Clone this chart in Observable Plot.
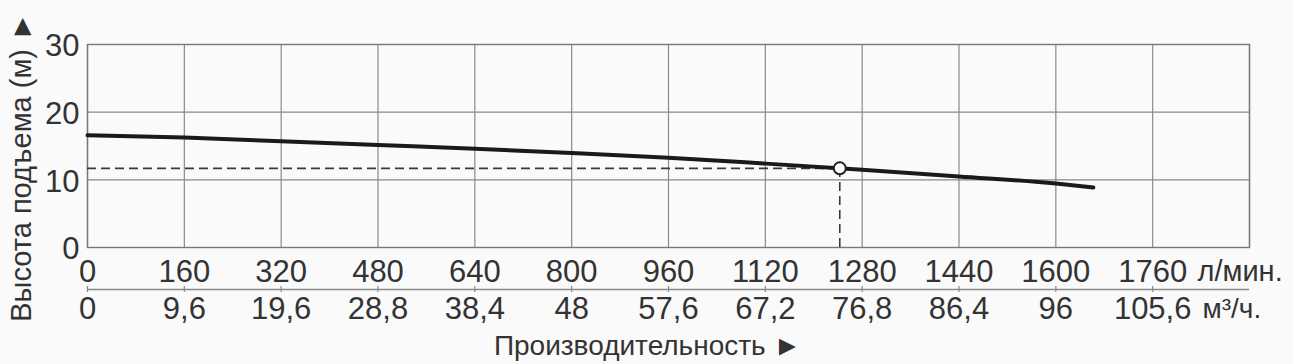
<!DOCTYPE html>
<html>
<head>
<meta charset="utf-8">
<script src="https://cdn.jsdelivr.net/npm/d3@7"></script>
<script src="https://cdn.jsdelivr.net/npm/@observablehq/plot@0.6"></script>
<style>
  html, body { margin: 0; padding: 0; background: #fafafa; }
  #chart svg { display: block; }
</style>
</head>
<body>
<div id="chart"></div>
<script>
// Performance curve (flow in l/min, head in m)
const flow = [0, 160, 320, 480, 640, 800, 960, 1120, 1280, 1440, 1600, 1662];
const head = [16.6, 16.25, 15.7, 15.15, 14.6, 13.95, 13.25, 12.4, 11.5, 10.5, 9.45, 8.86];

// Operating point
const opFlow = [1243];
const opHead = [11.7];

// Tick labels
const flowTicks = [0, 160, 320, 480, 640, 800, 960, 1120, 1280, 1440, 1600, 1760];
const m3Labels = ["0", "9,6", "19,6", "28,8", "38,4", "48", "57,6", "67,2", "76,8", "86,4", "96", "105,6"];
const headTicks = [0, 10, 20, 30];
const gridX = [0, 160, 320, 480, 640, 800, 960, 1120, 1280, 1440, 1600, 1760, 1920];

const yTitle = "Высота подъема (м) ►";
const xTitle = "Производительность ►";
const unitFlow = "л/мин.";
const unitM3 = "м³/ч.";

const curve = flow.map((f, i) => ({flow: f, head: head[i]}));
const op = opFlow.map((f, i) => ({flow: f, head: opHead[i]}));
const m3Rows = flowTicks.map((t, i) => ({flow: t, label: m3Labels[i]}));

const font = "'Liberation Sans', Arial, sans-serif";
const textColor = "#333";
const tickFont = 31;

const chart = Plot.plot({
  width: 1293,
  height: 364,
  marginLeft: 87,
  marginRight: 44,
  marginTop: 44,
  marginBottom: 117,
  style: {background: "#fafafa", fontFamily: font, fontSize: "29px", color: textColor},
  x: {type: "linear", domain: [0, 1920], axis: null},
  y: {type: "linear", domain: [0, 30], axis: null},
  marks: [
    Plot.ruleX(gridX, {stroke: "#8a8a8a", strokeWidth: 1.2}),
    Plot.ruleY(headTicks, {stroke: "#8a8a8a", strokeWidth: 1.2}),
    Plot.frame({stroke: "#777", strokeWidth: 1.4}),
    // dashed guides to operating point
    Plot.ruleY(op, {y: "head", x1: 0, x2: "flow", stroke: "#3a3a3a", strokeWidth: 1.6, strokeDasharray: "9,5"}),
    Plot.ruleX(op, {x: "flow", y1: 0, y2: "head", stroke: "#3a3a3a", strokeWidth: 1.6, strokeDasharray: "9,5"}),
    // curve
    Plot.line(curve, {x: "flow", y: "head", stroke: "#1a1a1a", strokeWidth: 4, curve: "monotone-x"}),
    Plot.dot(op, {x: "flow", y: "head", r: 6, fill: "white", stroke: "#222", strokeWidth: 2}),
    // y tick labels
    Plot.text(headTicks, {y: d => d, frameAnchor: "left", text: d => String(d), textAnchor: "end", lineAnchor: "middle", dx: -8, dy: 2, fontSize: tickFont, fill: textColor}),
    // first x tick labels (l/min)
    Plot.text(flowTicks, {x: d => d, frameAnchor: "bottom", text: d => String(d), textAnchor: "middle", lineAnchor: "middle", dy: 25, fontSize: tickFont, fill: textColor}),
    // second axis line (m3/h) with ticks
    Plot.ruleY([0], {dy: 42, stroke: "#888", strokeWidth: 1.4}),
    Plot.ruleX(flowTicks, {x: d => d, y1: 0, y2: 0, dy: 42, insetTop: -3, insetBottom: -3, stroke: "#888", strokeWidth: 1.2}),
    // second x tick labels (m3/h)
    Plot.text(m3Rows, {x: "flow", frameAnchor: "bottom", text: "label", textAnchor: "middle", lineAnchor: "middle", dy: 62, fontSize: tickFont, fill: textColor}),
    // units
    Plot.text([unitFlow], {frameAnchor: "bottom-right", text: d => d, textAnchor: "start", lineAnchor: "middle", dx: -52, dy: 24, fontSize: 29, fill: textColor}),
    Plot.text([unitM3], {frameAnchor: "bottom-right", text: d => d, textAnchor: "start", lineAnchor: "middle", dx: -47, dy: 62, fontSize: 28, fill: textColor}),
    // titles
    Plot.text([xTitle], {frameAnchor: "bottom", text: d => d, textAnchor: "middle", lineAnchor: "middle", dx: -21, dy: 99, fontSize: 28, fill: textColor}),
    Plot.text([yTitle], {frameAnchor: "left", text: d => d, textAnchor: "middle", lineAnchor: "middle", rotate: -90, dx: -66, dy: 21, fontSize: 29, fill: textColor})
  ]
});

document.getElementById("chart").appendChild(chart);
</script>
</body>
</html>
